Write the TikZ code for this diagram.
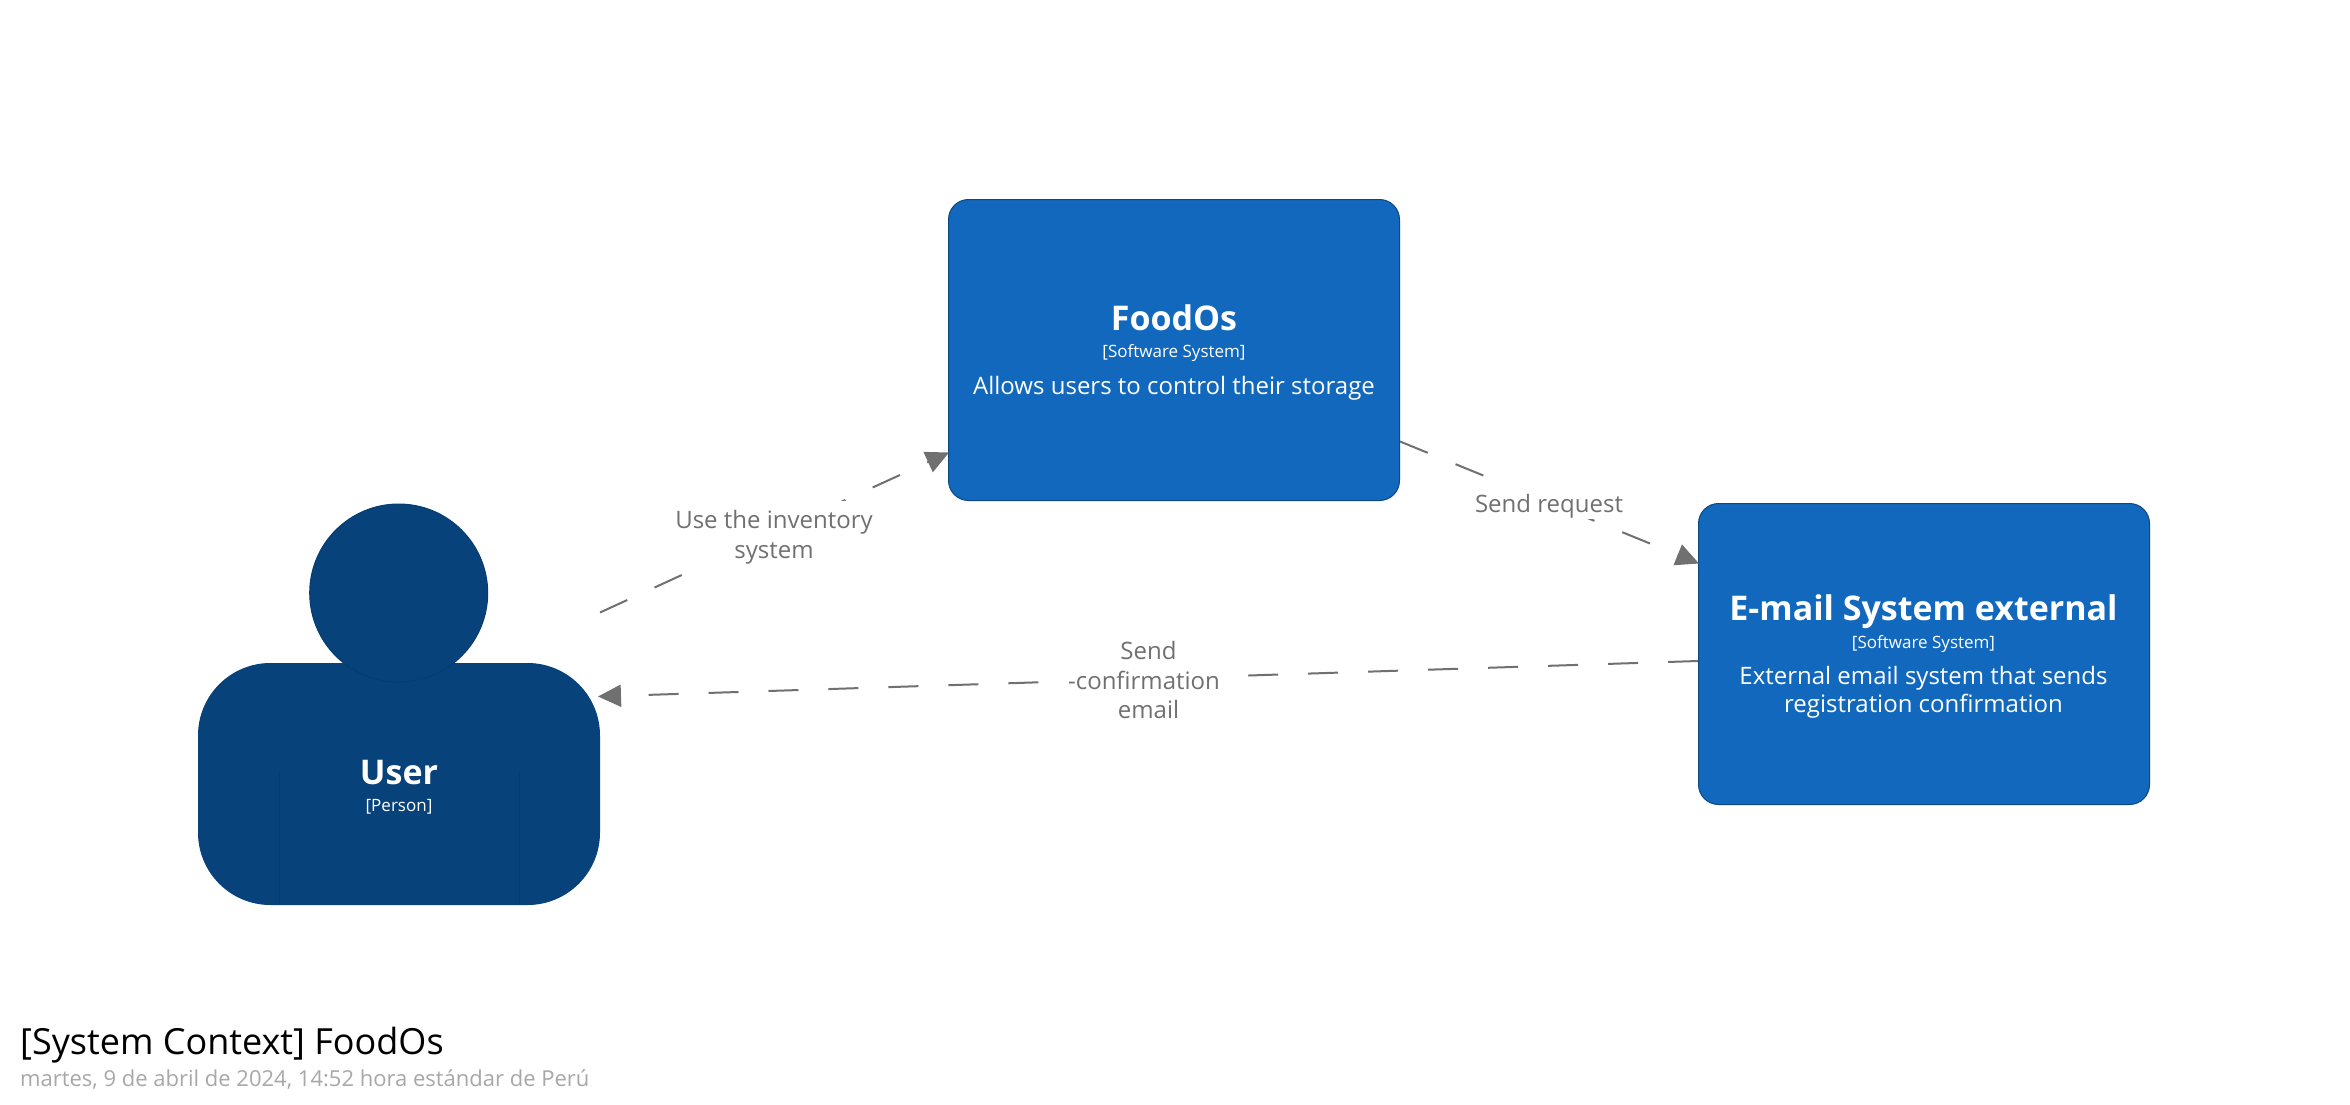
\documentclass[tikz,border=0pt]{standalone}
\usepackage{fontspec}
\setmainfont{Open Sans}
\usetikzlibrary{arrows.meta,calc}
\definecolor{sysfill}{HTML}{1168BD}
\definecolor{sysline}{HTML}{0B4884}
\definecolor{perfill}{HTML}{08427B}
\definecolor{perline}{HTML}{052E56}
\definecolor{linkgray}{HTML}{707070}
\definecolor{dategray}{HTML}{A8A8A8}
\newcommand{\topstrut}[1]{\rule{0pt}{#1}}
\newcommand{\botstrut}[1]{\rule[-#1]{0pt}{#1}}
\tikzset{
  x=1pt,y=-1pt,
  sysbox/.style={draw=sysline,fill=sysfill,line width=1pt,rounded corners=20pt,minimum width=451pt,minimum height=301pt,inner sep=0pt},
  perbody/.style={draw=perfill,fill=perfill,line width=1pt,rounded corners=72pt,minimum width=401pt,minimum height=241pt,inner sep=0pt},
  perhead/.style={circle,draw=perline!30!perfill,fill=perfill,line width=1pt,minimum size=178pt,inner sep=0pt},
  seam/.style={draw=perline!30!perfill,line width=1pt},
  nametext/.style={text=white,font=\fontsize{34}{40}\selectfont\bfseries,anchor=base,inner sep=0pt},
  kindtext/.style={text=white,font=\fontsize{17}{20}\selectfont,anchor=base,inner sep=0pt},
  desctext/.style={text=white,font=\fontsize{24}{28}\selectfont,anchor=base,inner sep=0pt},
  linktext/.style={text=linkgray,fill=white,font=\fontsize{24}{29.5}\selectfont,align=center,anchor=north,inner ysep=0pt,inner xsep=3pt},
  link/.style={draw=linkgray,line width=2pt,dash pattern=on 30pt off 30pt,-{Triangle[length=23pt,width=22pt,fill=linkgray]}},
}
\begin{document}
\begin{tikzpicture}
\useasboundingbox (0,0) rectangle (2350,1104);
\fill[white] (0,0) rectangle (2350,1104);
% person
\node[perbody] (body) at (399,784) {};
\draw[seam] (279,771) coordinate (seamAa) -- (279,905) coordinate (seamAb);
\draw[seam] (519,771) coordinate (seamBa) -- (519,905) coordinate (seamBb);
\node[perhead] (head) at (398.7,593) {};
% systems
\node[sysbox] (foodos) at (1174,350) {};
\node[sysbox] (email) at (1924,654) {};
% connector ends
\coordinate (a1) at ($(body.north east)+(0,-50.5)$);
\coordinate (a2) at ($(foodos.south west)+(1,-48.5)$);
\coordinate (b1) at ($(foodos.south east)+(0,-59.5)$);
\coordinate (b2) at ($(email.north west)+(1,60.5)$);
\coordinate (c1) at ($(email.north west)+(0,158)$);
\coordinate (c2) at ($(body.north east)+(-2,33.5)$);
\draw[link] (a1) -- (a2);
\draw[link] (b1) -- (b2);
\draw[link] (c1) -- (c2);
% connector labels
\node[linktext] (la) at (774,501) {\topstrut{27.5pt}Use the inventory\\system\botstrut{5pt}};
\node[linktext] (lb) at (1549,486) {\topstrut{26.2pt}Send request\botstrut{6.8pt}};
\node[linktext] (lc) at (1148.5,635) {\topstrut{24.5pt}Send\\-confirmation\rule{9pt}{0pt}\\email\botstrut{5.5pt}};
% texts
\node[nametext] (tfood) at (1174,330.3) {FoodOs};
\node[kindtext] (kfood) at (1174,357.5) {[Software System]};
\node[desctext] (dfood) at (1174,394.5) {Allows users to control their storage};
\node[nametext] (temail) at (1923.5,620) {E-mail System external};
\node[kindtext] (kemail) at (1923.5,648) {[Software System]};
\node[desctext] (demaila) at (1923.5,684) {External email system that sends};
\node[desctext] (demailb) at (1923.5,712.2) {registration confirmation};
\node[nametext] (tuser) at (399,784.5) {User};
\node[kindtext] (kuser) at (399,811.5) {[Person]};
\node[anchor=base west,inner sep=0pt,font=\fontsize{36}{42}\selectfont] (title) at (20,1054.5) {[System Context] FoodOs};
\node[anchor=base west,inner sep=0pt,text=dategray,font=\fontsize{22}{26}\selectfont] (date) at (20,1086) {martes, 9 de abril de 2024, 14:52 hora estándar de Perú};
\end{tikzpicture}
\end{document}
